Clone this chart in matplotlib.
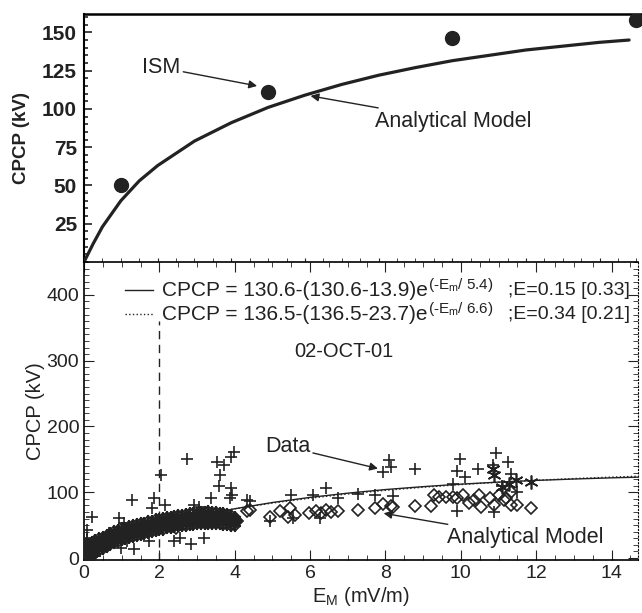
import numpy as np
from matplotlib import pyplot as plt
from matplotlib.ticker import MultipleLocator

plt.rcParams['font.family'] = ['Liberation Sans', 'DejaVu Sans']
plt.rcParams['mathtext.fontset'] = 'custom'
plt.rcParams['mathtext.rm'] = 'Liberation Sans'
plt.rcParams['mathtext.it'] = 'Liberation Sans'

ink = '#222222'

# Top panel: ISM runs and analytical model
ism_e   = [1, 5, 10, 15]
ism_cp  = [50, 111, 146, 158]
top_e   = [0, 0.25, 0.5, 1, 1.5, 2, 3, 4, 5, 6, 7, 8, 9, 10, 11, 12, 13, 14, 14.8]
top_cp  = [0, 12, 23, 40, 53, 63, 79, 91, 101, 109, 116, 122, 127, 131.5, 135, 138.5, 141, 143.5, 145]

# Bottom panel: fitted curves
fit_e    = [0, 1, 2, 3, 4, 5, 6, 7, 8, 9, 10, 11, 12, 13, 14, 14.7]
fit1_cp  = [13.9, 33.6, 50.1, 63.6, 74.9, 84.4, 92.2, 98.6, 104.1, 108.5,
            112.3, 115.4, 118.0, 120.1, 121.9, 122.9]
fit2_cp  = [23.7, 39.5, 53.1, 64.9, 74.9, 83.6, 91.0, 97.4, 102.9, 107.6,
            111.7, 115.2, 118.2, 120.8, 123.0, 124.3]
fit_text = ['CPCP = 130.6-(130.6-13.9)e', 'CPCP = 136.5-(136.5-23.7)e']
fit_exp  = ['(-E$_\\mathregular{m}$/ 5.4)', '(-E$_\\mathregular{m}$/ 6.6)']
fit_err  = [';E=0.15 [0.33]', ';E=0.34 [0.21]']

# Dense band of low-field observations (E < 4 mV/m)
band_e   = [0.0, 0.1, 0.2, 0.3, 0.4, 0.5, 0.6, 0.7, 0.8, 0.9, 1.0, 1.1, 1.2, 1.3,
            1.4, 1.5, 1.6, 1.7, 1.8, 1.9, 2.0, 2.1, 2.2, 2.3, 2.4, 2.5, 2.6, 2.7,
            2.8, 2.9, 3.0, 3.1, 3.2, 3.3, 3.4, 3.5, 3.6, 3.7, 3.8, 3.9, 4.0]
band_mid = [6, 9, 12, 16, 20, 23, 26, 29, 32, 34, 36, 38, 39, 41, 42, 44, 45, 47,
            48, 50, 51, 52, 53, 54, 55, 56, 57, 58, 58, 59, 59, 60, 60, 60, 60, 60,
            59, 59, 58, 58, 56]
band_hi  = [18, 20, 24, 27, 30, 32, 35, 38, 41, 43, 45, 46, 48, 50, 51, 53, 54, 56,
            57, 59, 60, 61, 62, 63, 64, 65, 66, 67, 68, 68, 69, 70, 70, 71, 70, 70,
            69, 68, 67, 66, 63]
band_lo  = [0, 1, 3, 6, 10, 14, 17, 20, 23, 25, 27, 29, 31, 32, 34, 35, 37, 38, 40,
            41, 42, 43, 45, 46, 47, 48, 49, 49, 50, 50, 51, 51, 52, 52, 52, 51, 51,
            50, 50, 49, 49]

# Scattered observations (+)
obs_e  = [0.22, 0.09, 0.09, 0.66, 0.93, 1.06, 1.28, 1.85, 1.81, 2.03, 2.16, 2.74,
          2.91, 3.05, 3.53, 3.71, 3.97, 3.89, 3.62, 3.58, 3.90, 3.92, 3.88, 3.36,
          4.33, 2.38, 2.56, 3.18, 2.83, 1.72, 0.97, 1.32, 1.15, 1.59, 0.02, 0.05,
          0.10, 0.15, 0.20, 0.05, 0.25, 0.30, 0.12, 0.08,
          7.93, 8.10, 8.15, 8.77, 6.43, 5.50, 6.07, 6.74, 7.27, 7.71, 8.20, 4.40,
          4.93, 5.55, 6.25,
          9.98, 9.90, 10.10, 10.45, 10.93, 11.24, 10.84, 9.78, 11.33, 9.90, 10.89,
          11.10, 11.50]
obs_cp = [63, 43, 31, 38, 61, 53, 88, 91, 76, 126, 81, 151,
          81, 78, 146, 141, 161, 154, 126, 109, 106, 96, 91, 91,
          88, 26, 31, 31, 21, 26, 16, 13, 26, 36, 2, 8,
          4, 12, 2, 20, 8, 3, 15, 28,
          131, 149, 139, 136, 107, 96, 96, 92, 98, 96, 94, 86,
          56, 61, 61,
          151, 133, 123, 136, 159, 146, 141, 113, 128, 71, 70,
          110, 100]

# Model values (diamonds)
mod_e  = [2.43, 3.20, 3.55, 3.85, 4.05, 4.33,
          4.40, 4.93, 5.19, 5.46, 5.59, 5.41, 5.96, 6.16, 6.30, 6.43, 6.55, 6.74,
          7.27, 7.71, 7.93, 8.15, 8.20, 8.77, 9.21, 9.30, 9.60,
          9.43, 9.78, 9.90, 10.05, 10.22, 10.49, 10.54, 10.76, 10.89, 11.02, 11.15,
          11.33, 11.50, 11.33, 11.86, 10.35, 11.20]
mod_cp = [46, 55, 58, 56, 57, 71,
          73, 63, 71, 76, 66, 63, 68, 71, 68, 73, 70, 72,
          73, 76, 82, 79, 77, 79, 79, 96, 93,
          93, 93, 91, 96, 83, 96, 78, 91, 81, 96, 88,
          81, 81, 101, 76, 88, 92]

# Asterisks near 11 mV/m
ast_e  = [10.84, 10.89, 11.46, 11.28, 11.86, 11.10]
ast_cp = [136, 126, 118, 113, 116, 108]

fig = plt.figure(figsize=(6.42, 6.13), dpi=100)
ax1 = fig.add_axes([84/642, 1 - 262/613, 558/642, 248/613])
ax2 = fig.add_axes([84/642, 1 - 560/613, 554/642, 298/613])

# ---- top panel
ax1.plot(top_e, top_cp, color=ink, lw=2.3, solid_capstyle='round', zorder=3)
ax1.plot(ism_e, ism_cp, 'o', color=ink, ms=10, clip_on=True, zorder=4)
ax1.set_xlim(0, 15.15)
ax1.set_ylim(0, 162)
ax1.yaxis.set_major_locator(MultipleLocator(25))
ax1.yaxis.set_minor_locator(MultipleLocator(5))
ax1.xaxis.set_major_locator(MultipleLocator(2))
ax1.xaxis.set_minor_locator(MultipleLocator(0.5))
ax1.set_yticks([25, 50, 75, 100, 125, 150])
ax1.tick_params(axis='y', which='both', direction='in', labelsize=15,
                colors=ink, width=1.2, pad=5)
ax1.tick_params(axis='y', which='major', length=6)
ax1.tick_params(axis='y', which='minor', length=3)
ax1.tick_params(axis='x', which='both', direction='in', labelbottom=False,
                length=3, colors=ink)
for lab in ax1.get_yticklabels():
    lab.set_fontweight('bold')
ax1.set_ylabel('CPCP (kV)', fontsize=13.5, fontweight='bold', color=ink, labelpad=9)
ax1.spines['right'].set_visible(False)
ax1.spines['top'].set_linewidth(1.8)
ax1.spines['left'].set_linewidth(1.5)
ax1.spines['bottom'].set_visible(False)

arrow = dict(arrowstyle='-|>', color=ink, lw=1.0, mutation_scale=12,
             shrinkA=0, shrinkB=0)
ax1.annotate('ISM', xy=(4.7, 115), xytext=(2.1, 127), fontsize=15.5, color=ink,
             ha='center', va='center', arrowprops=arrow)
ax1.annotate('Analytical Model', xy=(6.15, 108.5), xytext=(7.9, 92), fontsize=15.5,
             color=ink, ha='left', va='center', arrowprops=arrow)

# ---- bottom panel
ax2.plot(band_e, band_hi, '+', ms=9, mec=ink, mew=1.5, zorder=3)
ax2.plot(band_e, band_lo, '+', ms=9, mec=ink, mew=1.5, zorder=3)
ax2.plot(band_e, band_hi, 'D', ms=5, mfc='none', mec=ink, mew=1.3, zorder=3)
ax2.plot(band_e, band_lo, 'D', ms=5, mfc='none', mec=ink, mew=1.3, zorder=3)
ax2.plot(band_e, band_mid, 'D', ms=7, mfc=ink, mec=ink, mew=1.6, zorder=3)
ax2.plot(obs_e, obs_cp, '+', ms=9, mec=ink, mew=1.2, zorder=3)
ax2.plot(mod_e, mod_cp, 'D', ms=6, mfc='none', mec=ink, mew=1.2, zorder=3)
ax2.plot(ast_e, ast_cp, marker=(6, 2, 0), ls='none', ms=10, mec=ink, mew=1.2, zorder=3)
ax2.plot(fit_e, fit1_cp, '-', color=ink, lw=1.0, zorder=4)
ax2.plot(fit_e, fit2_cp, ':', color=ink, lw=1.0, zorder=4)
ax2.plot([2, 2], [-5, 360], '--', color=ink, lw=1.0, dashes=(6, 4), zorder=2)

ax2.set_xlim(0, 14.7)
ax2.set_ylim(-3, 450)
ax2.xaxis.set_major_locator(MultipleLocator(2))
ax2.xaxis.set_minor_locator(MultipleLocator(0.5))
ax2.yaxis.set_major_locator(MultipleLocator(100))
ax2.yaxis.set_minor_locator(MultipleLocator(10))
ax2.tick_params(which='both', direction='in', top=True, right=True,
                labelsize=14, colors=ink)
ax2.tick_params(which='major', length=7)
ax2.tick_params(which='minor', length=3.5)
ax2.set_xlabel(r'E$_\mathregular{M}$ (mV/m)', fontsize=14.5, color=ink, labelpad=2)
ax2.set_ylabel('CPCP (kV)', fontsize=14.5, color=ink, labelpad=1)
ax2.spines['right'].set_linestyle((0, (1, 2)))
for s in ['left', 'bottom', 'top']:
    ax2.spines[s].set_linewidth(1.2)

# legend-like formulas
tr = ax2.transAxes
rows = [0.905, 0.825]
for y, ls, txt, ex, err in zip(rows, ['-', ':'], fit_text, fit_exp, fit_err):
    ax2.plot([0.074, 0.125], [y, y], ls, color=ink, lw=1.0, transform=tr)
    t = ax2.text(0.141, y, txt, transform=tr, fontsize=15, color=ink, va='center')
    ax2.annotate(ex, xy=(1.0, 0.58), xycoords=t, fontsize=11, color=ink,
                 ha='left', va='baseline')
    ax2.text(0.765, y, err, transform=tr, fontsize=14, color=ink, va='center')
ax2.text(6.9, 314, '02-OCT-01', fontsize=14.5, color=ink, ha='center', va='center')

ax2.annotate('Data', xy=(7.8, 136), xytext=(4.8, 169), fontsize=15.5, color=ink,
             ha='left', va='center', arrowprops=arrow)
ax2.annotate('Analytical Model', xy=(7.95, 68), xytext=(9.62, 31), fontsize=15.5,
             color=ink, ha='left', va='center', arrowprops=arrow)

fig.savefig('out.png', dpi=100)
